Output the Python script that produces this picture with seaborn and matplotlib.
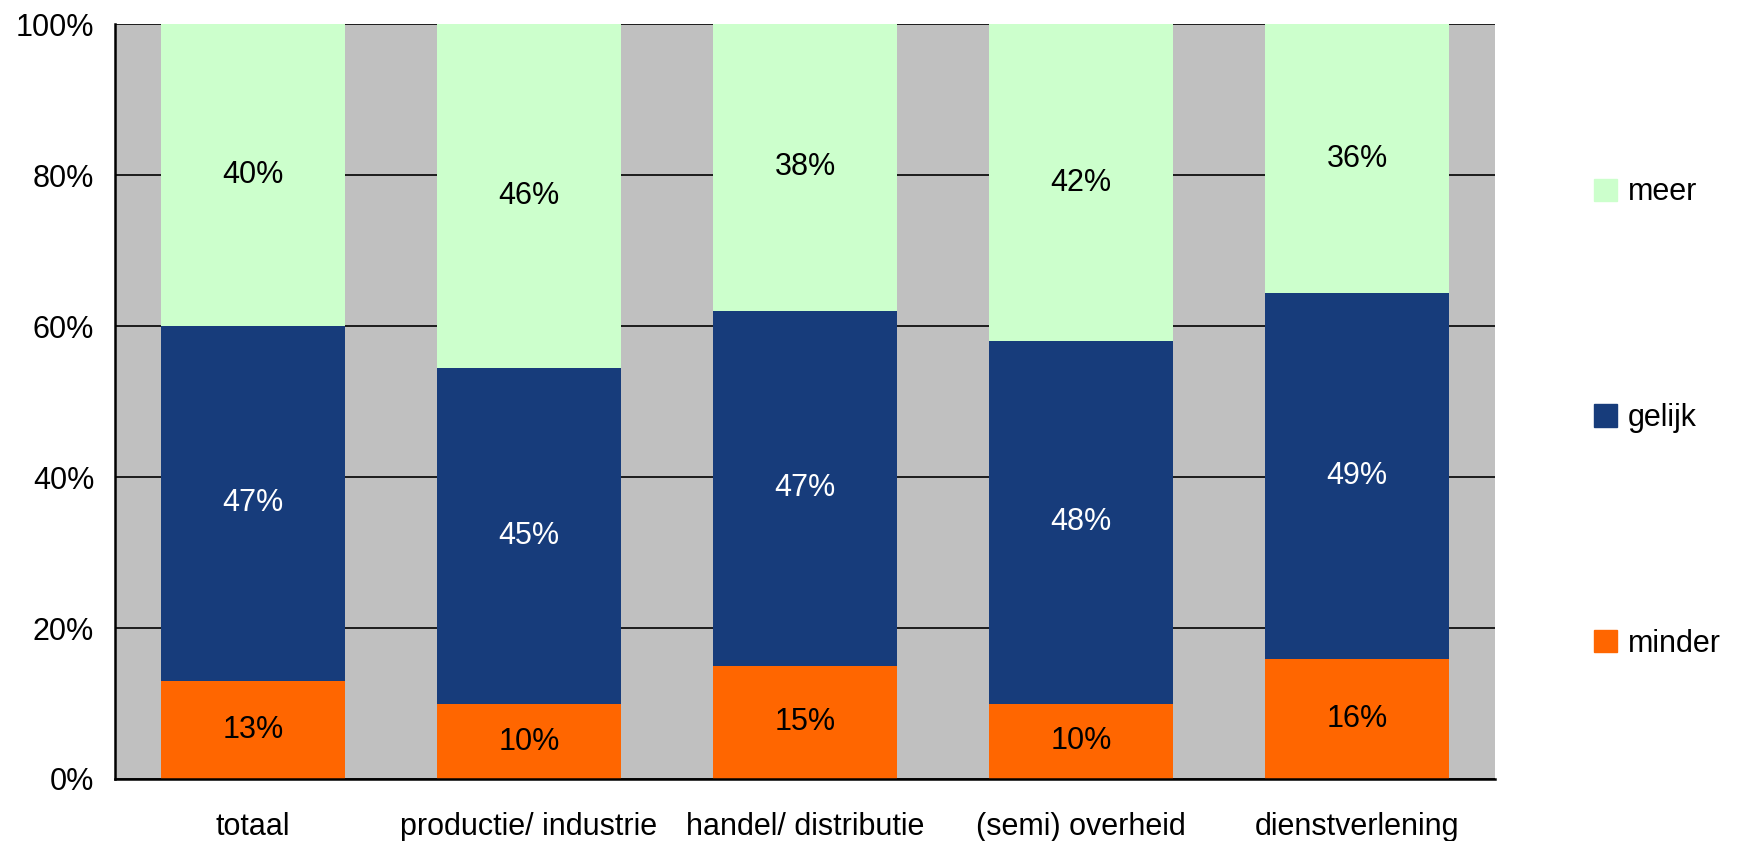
import matplotlib
matplotlib.use("Agg")
import matplotlib.pyplot as plt
import matplotlib.patches as mpatches
import numpy as np
import pandas as pd
import seaborn as sns

categories = ["totaal", "productie/ industrie", "handel/ distributie", "(semi) overheid", "dienstverlening"]
minder = [13, 10, 15, 10, 16]
gelijk = [47, 45, 47, 48, 49]
meer = [40, 46, 38, 42, 36]

series = ["minder", "gelijk", "meer"]
colors = {"minder": "#FF6600", "gelijk": "#173C7B", "meer": "#CCFFCC"}
label_colors = {"minder": "black", "gelijk": "white", "meer": "black"}


def main():
    sns.set_style("white")
    plt.rcParams["font.family"] = ["Liberation Sans", "DejaVu Sans"]
    plt.rcParams["text.color"] = "black"
    plt.rcParams["xtick.color"] = "black"
    plt.rcParams["ytick.color"] = "black"
    fs = 22

    df = pd.DataFrame({"categorie": categories, "minder": minder, "gelijk": gelijk, "meer": meer})
    total = df[series].sum(axis=1)
    # Excel 100% stacked: normalise each column to 100
    share = df[series].div(total, axis=0) * 100

    fig = plt.figure(figsize=(17.39, 8.41), dpi=100)
    ax = fig.add_axes([115 / 1739, 1 - 779 / 841, 1380 / 1739, 755 / 841])
    ax.set_facecolor("#C0C0C0")

    bottom = np.zeros(len(categories))
    for s in series:
        sns.barplot(x=df["categorie"], y=share[s], bottom=bottom, color=colors[s],
                    width=0.667, ax=ax, saturation=1, linewidth=0, order=categories)
        for i, (b, h, raw) in enumerate(zip(bottom, share[s], df[s])):
            ax.text(i, b + h / 2, f"{raw}%", ha="center", va="center",
                    fontsize=fs, color=label_colors[s])
        bottom = bottom + share[s].to_numpy()

    ax.set_xlim(-0.5, len(categories) - 0.5)
    ax.set_ylim(0, 100)
    ax.set_yticks(range(0, 101, 20), [f"{v}%" for v in range(0, 101, 20)])
    ax.yaxis.grid(True, color="black", linewidth=1.2)
    ax.set_axisbelow(True)

    ax.set_xticks(np.arange(-0.5, len(categories)), [""] * (len(categories) + 1))
    ax.set_xticks(range(len(categories)), categories, minor=True)
    ax.tick_params(axis="x", which="major", length=9, width=1.2, color="black", direction="out")
    ax.tick_params(axis="x", which="minor", length=0, pad=24, labelsize=fs, labelcolor="black")
    ax.tick_params(axis="y", length=7, width=1.2, color="black", direction="out", pad=8,
                   labelsize=fs, labelcolor="black")
    ax.set_xlabel("")
    ax.set_ylabel("")

    for side in ["top", "right"]:
        ax.spines[side].set_visible(False)
    for side in ["left", "bottom"]:
        ax.spines[side].set_color("black")
        ax.spines[side].set_linewidth(1.8)

    handles = [mpatches.Patch(color=colors[s], label=s) for s in reversed(series)]
    fig.legend(handles=handles, loc="center left", bbox_to_anchor=(1579 / 1739, 1 - 418 / 841),
               frameon=False, fontsize=fs, handlelength=0.75, handleheight=0.75,
               handletextpad=0.35, labelspacing=6.4, borderpad=0, labelcolor="black")

    fig.savefig("out.png", dpi=100)
    plt.close(fig)


if __name__ == "__main__":
    main()
